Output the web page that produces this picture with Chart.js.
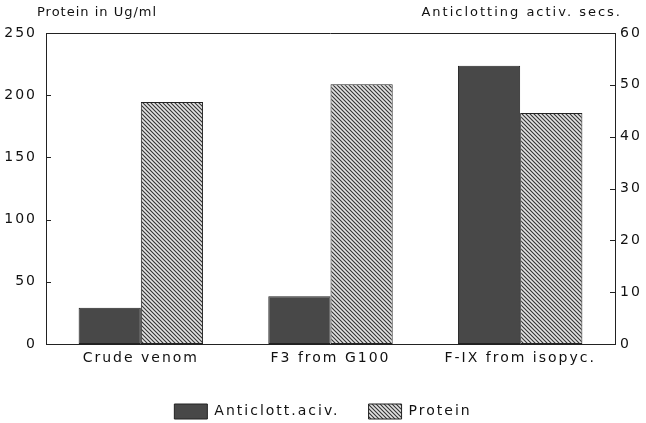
<!DOCTYPE html>
<html><head><meta charset="utf-8">
<script src="https://cdn.jsdelivr.net/npm/chart.js@4.4.1/dist/chart.umd.min.js"></script>
<style>html,body{margin:0;padding:0;background:#fff;overflow:hidden}#wrap{width:646px;height:423px;position:relative}</style>
</head><body><div id="wrap"><canvas id="c"></canvas></div>
<script>
// ---- data ----
const categories = ['Crude venom', 'F3 from G100', 'F-IX from isopyc.'];
const anticlottingSecs = [7.0, 9.2, 53.7];      // right axis (secs)
const proteinUgMl = [194.6, 208.9, 185.7];      // left axis (Ug/ml)
const seriesNames = ['Anticlott.aciv.', 'Protein'];
const leftAxisTitle = 'Protein in Ug/ml';
const rightAxisTitle = 'Anticlotting activ. secs.';
const leftTicks = { min: 0, max: 250, step: 50 };
const rightTicks = { min: 0, max: 60, step: 10 };

const FONT = '"DejaVu Sans", sans-serif';
const INK = '#111';

function hatch() {
  const s = 4, c = document.createElement('canvas');
  c.width = s; c.height = s;
  const g = c.getContext('2d');
  g.fillStyle = '#e2e2e2'; g.fillRect(0, 0, s, s);
  g.strokeStyle = '#333'; g.lineWidth = 1.1;
  g.beginPath();
  g.moveTo(-1, -1); g.lineTo(s + 1, s + 1);
  g.moveTo(-1, s - 1); g.lineTo(1, s + 1);
  g.moveTo(s - 1, -1); g.lineTo(s + 1, 1);
  g.stroke();
  return g.createPattern(c, 'repeat');
}

const spacing = {
  id: 'spacing',
  beforeUpdate(chart) { chart.ctx.letterSpacing = '2px'; },
  beforeDraw(chart) { chart.ctx.letterSpacing = '2px'; },
  afterDraw(chart) {
    const ctx = chart.ctx, a = chart.chartArea;
    ctx.save();
    ctx.strokeStyle = '#222'; ctx.lineWidth = 1;
    ctx.beginPath(); ctx.moveTo(a.left, a.top + 0.5); ctx.lineTo(a.right, a.top + 0.5); ctx.stroke();
    const yl = chart.scales.y, yr = chart.scales.y1;
    yl.ticks.forEach(t => { const p = Math.round(yl.getPixelForValue(t.value)) + 0.5; ctx.beginPath(); ctx.moveTo(a.left, p); ctx.lineTo(a.left + 5, p); ctx.stroke(); });
    yr.ticks.forEach(t => { const p = Math.round(yr.getPixelForValue(t.value)) + 0.5; ctx.beginPath(); ctx.moveTo(a.right, p); ctx.lineTo(a.right - 5, p); ctx.stroke(); });
    ctx.fillStyle = INK;
    ctx.textBaseline = 'middle';
    ctx.font = '13px ' + FONT;
    ctx.letterSpacing = '1px';
    ctx.textAlign = 'left';
    ctx.fillText(leftAxisTitle, 37, 13);
    ctx.font = '13px ' + FONT;
    ctx.letterSpacing = '2px';
    ctx.textAlign = 'right';
    ctx.fillText(rightAxisTitle, 622, 13);
    ctx.restore();
  }
};

new Chart(document.getElementById('c'), {
  type: 'bar',
  data: {
    labels: categories,
    datasets: [
      { label: seriesNames[0], data: anticlottingSecs, yAxisID: 'y1', backgroundColor: '#484848', borderColor: '#222', borderWidth: 1, borderSkipped: false },
      { label: seriesNames[1], data: proteinUgMl, yAxisID: 'y', backgroundColor: hatch(), borderColor: '#222', borderWidth: 1, borderSkipped: false }
    ]
  },
  options: {
    responsive: true, maintainAspectRatio: false, animation: false,
    devicePixelRatio: 1,
    layout: { padding: { top: 33, bottom: -6, left: 0, right: 0 } },
    datasets: { bar: { categoryPercentage: 0.656, barPercentage: 1 } },
    plugins: {
      legend: {
        position: 'bottom',
        labels: { boxWidth: 33, boxHeight: 15, padding: 29, color: INK, font: { family: FONT, size: 14 } }
      },
      tooltip: { enabled: false }
    },
    scales: {
      x: {
        grid: { display: false, drawTicks: false },
        border: { display: true, color: '#222', width: 1 },
        ticks: { color: INK, padding: 6, font: { family: FONT, size: 14 } },
        afterFit(s) { s.height = 31; }
      },
      y: {
        position: 'left', min: leftTicks.min, max: leftTicks.max,
        grid: { display: false, drawTicks: false },
        border: { display: true, color: '#222', width: 1 },
        ticks: { stepSize: leftTicks.step, color: INK, padding: 9, font: { family: FONT, size: 14 } },
        afterFit(s) { s.width = 46; }
      },
      y1: {
        position: 'right', min: rightTicks.min, max: rightTicks.max,
        grid: { display: false, drawTicks: false },
        border: { display: true, color: '#222', width: 1 },
        ticks: { stepSize: rightTicks.step, color: INK, padding: 5, font: { family: FONT, size: 14 } },
        afterFit(s) { s.width = 31; }
      }
    }
  },
  plugins: [spacing]
});
</script>
</body></html>
